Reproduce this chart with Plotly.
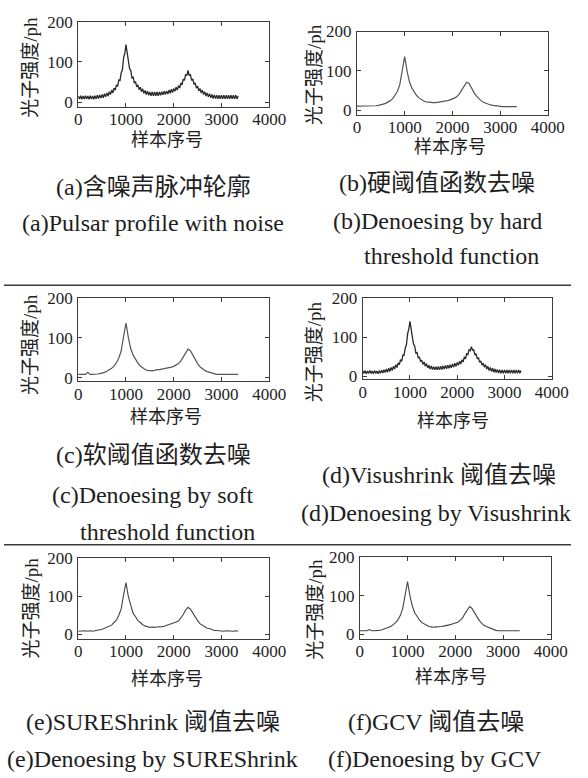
import plotly.graph_objects as go

W, H = 588, 778

# ---------------- data ----------------
x_dense = list(range(0, 3351, 25))   # sample index, noisy series
x_coarse = list(range(0, 3351, 50))  # sample index, smooth series

noisy_a = [
    15, 8, 16, 7, 15, 8, 16, 8, 15, 7,
    16, 8, 15, 7, 16, 8, 17, 9, 18, 10,
    19, 11, 21, 13, 23, 15, 26, 19, 30, 23,
    35, 30, 43, 39, 55, 54, 73, 81, 110, 121,
    143, 120, 109, 83, 79, 60, 62, 47, 51, 38,
    43, 31, 37, 26, 33, 22, 29, 19, 27, 17,
    25, 16, 25, 16, 25, 16, 25, 16, 25, 17,
    26, 18, 27, 19, 28, 20, 30, 22, 32, 24,
    34, 27, 37, 30, 41, 35, 48, 43, 57, 54,
    69, 66, 79, 66, 69, 54, 58, 44, 48, 35,
    40, 28, 34, 23, 30, 19, 26, 15, 23, 13,
    21, 11, 19, 9, 18, 9, 17, 8, 17, 8,
    17, 8, 17, 8, 17, 8, 17, 8, 17, 8,
    17, 8, 17, 8, 15,
]

hard_b = [
    10, 10, 10, 10, 10, 10, 10, 10, 11, 12,
    13, 15, 17, 20, 24, 29, 37, 48, 66, 103,
    136, 100, 72, 56, 45, 37, 31, 26, 23, 21,
    20, 19, 19, 19, 20, 20, 21, 22, 24, 26,
    28, 31, 35, 42, 52, 63, 71, 68, 55, 45,
    36, 29, 24, 20, 17, 15, 13, 12, 11, 10,
    9, 9, 9, 9, 9, 9, 9, 9,
]

soft_c = [
    9, 9, 9, 9, 14, 9, 9, 9, 10, 11,
    12, 14, 17, 20, 24, 30, 38, 50, 68, 104,
    137, 101, 73, 57, 45, 37, 30, 25, 21, 19,
    18, 18, 19, 21, 21, 22, 23, 24, 25, 27,
    29, 32, 36, 43, 53, 64, 72, 68, 56, 45,
    36, 28, 23, 19, 16, 14, 12, 10, 9, 9,
    9, 9, 9, 9, 9, 9, 9, 9,
]

visu_d = [
    13, 7, 14, 6, 13, 7, 14, 7, 13, 6,
    14, 7, 13, 6, 14, 7, 15, 8, 16, 9,
    18, 10, 20, 12, 22, 14, 25, 18, 29, 22,
    34, 29, 42, 38, 54, 53, 72, 80, 108, 120,
    140, 119, 107, 82, 77, 59, 60, 46, 49, 37,
    41, 30, 36, 25, 32, 21, 28, 18, 26, 17,
    24, 16, 24, 16, 25, 16, 25, 17, 26, 18,
    27, 19, 28, 20, 29, 21, 31, 23, 33, 25,
    35, 28, 38, 31, 42, 36, 49, 44, 57, 55,
    67, 65, 75, 66, 67, 54, 57, 44, 47, 35,
    39, 28, 33, 23, 29, 18, 25, 14, 22, 12,
    20, 10, 18, 9, 17, 8, 16, 7, 16, 7,
    16, 7, 16, 7, 16, 7, 16, 7, 16, 7,
    16, 7, 16, 7, 14,
]

sure_e = [
    8, 9, 8, 9, 8, 9, 8, 10, 10, 12,
    13, 16, 17, 21, 24, 31, 37, 50, 67, 104,
    136, 99, 74, 55, 46, 36, 31, 25, 22, 19,
    18, 19, 18, 19, 19, 20, 21, 23, 24, 27,
    28, 32, 35, 43, 52, 64, 71, 66, 56, 44,
    36, 28, 24, 19, 16, 15, 12, 10, 10, 9,
    9, 8, 9, 8, 9, 8, 9, 8,
]

gcv_f = [
    9, 9, 9, 9, 12, 9, 9, 9, 10, 11,
    13, 15, 18, 20, 25, 30, 38, 49, 68, 103,
    137, 100, 73, 56, 46, 37, 30, 26, 22, 20,
    19, 18, 19, 19, 20, 21, 22, 23, 25, 27,
    29, 31, 36, 42, 53, 63, 72, 67, 56, 45,
    36, 29, 23, 20, 17, 14, 12, 10, 9, 9,
    9, 9, 8, 9, 9, 8, 9, 9,
]

x_ticks = [0, 1000, 2000, 3000, 4000]
y_ticks = [0, 100, 200]
x_label = "样本序号"
y_label = "光子强度/ph"

panel_tags = ["a", "b", "c", "d", "e", "f"]
captions_cn = [
    "含噪声脉冲轮廓", "硬阈值函数去噪", "软阈值函数去噪",
    "Visushrink 阈值去噪", "SUREShrink 阈值去噪", "GCV 阈值去噪",
]
captions_en = [
    ["Pulsar profile with noise"],
    ["Denoesing by hard", "threshold function"],
    ["Denoesing by soft", "threshold function"],
    ["Denoesing by Visushrink"],
    ["Denoesing by SUREShrink"],
    ["Denoesing by GCV"],
]

# ---------------- layout geometry (pixels) ----------------
panels = [
    # left, right, top, bottom, ymin, line width, line color
    dict(box=(77, 275, 13, 100), ymin=-12, lw=1.3, col="#2a2a2a"),
    dict(box=(366, 564, 23, 108), ymin=-12, lw=1.2, col="#555555"),
    dict(box=(77, 275, 295, 380), ymin=-8, lw=1.2, col="#555555"),
    dict(box=(372, 568, 295, 378), ymin=-8, lw=1.3, col="#2a2a2a"),
    dict(box=(77, 275, 561, 643), ymin=-12, lw=1.1, col="#444444"),
    dict(box=(369, 567, 560, 643), ymin=-12, lw=1.1, col="#444444"),
]
series_x = [x_dense, x_coarse, x_coarse, x_dense, x_coarse, x_coarse]
series_y = [noisy_a, hard_b, soft_c, visu_d, sure_e, gcv_f]

ylab_pos = [(28, 60), (322, 67), (28, 343), (322, 350), (28, 612), (323, 613)]
xlab_pos = [(169, 134), (463, 141), (168, 417), (466, 421), (169, 684), (464, 682)]

cn_pos = [(155, 182), (449, 178), (155, 455), (451, 476), (155, 728), (448, 728)]
en_pos = [
    [("c", 154, 218)],
    [("c", 450, 216), ("r", 557, 252)],
    [("c", 155, 496), ("r", 262, 534)],
    [("c", 448, 515)],
    [("c", 154, 766)],
    [("c", 447, 766)],
]

SERIF = "Liberation Serif, Times New Roman, serif"
CJK = "Liberation Serif, Noto Sans CJK SC, sans-serif"
TXT = "#1e1e1e"


def px(x):
    return x / W


def py(y):
    return 1 - y / H


def tag(t):
    return "(" + t + ")"


fig = go.Figure()
annotations = []

for i, p in enumerate(panels):
    l, r, t, b = p["box"]
    n = "" if i == 0 else str(i + 1)
    fig.add_trace(go.Scatter(
        x=series_x[i], y=series_y[i], mode="lines",
        line=dict(color=p["col"], width=p["lw"]),
        xaxis="x" + n, yaxis="y" + n, showlegend=False, hoverinfo="skip",
    ))
    axis_common = dict(
        showline=True, linecolor="#3c3c3c", linewidth=1, mirror="allticks",
        ticks="inside", ticklen=4, tickcolor="#3c3c3c", tickwidth=1,
        showgrid=False, zeroline=False, fixedrange=True,
        tickfont=dict(family=SERIF, size=17, color=TXT),
    )
    fig.layout["xaxis" + n] = dict(
        axis_common, domain=[px(l), px(r)], range=[0, 4000],
        tickvals=x_ticks, anchor="y" + n, ticklabelstandoff=-3,
    )
    fig.layout["yaxis" + n] = dict(
        axis_common, domain=[py(b), py(t)], range=[p["ymin"], 200],
        tickvals=y_ticks, anchor="x" + n, ticklabelstandoff=1,
    )
    # axis titles
    yx, yy = ylab_pos[i]
    annotations.append(dict(
        x=px(yx), y=py(yy), xref="paper", yref="paper", text=y_label,
        textangle=-90, showarrow=False, xanchor="center", yanchor="middle",
        font=dict(family=CJK, size=19, color=TXT),
    ))
    xx, xy = xlab_pos[i]
    annotations.append(dict(
        x=px(xx), y=py(xy), xref="paper", yref="paper", text=x_label,
        showarrow=False, xanchor="center", yanchor="middle",
        font=dict(family=CJK, size=18, color=TXT),
    ))
    # captions
    cx, cy = cn_pos[i]
    annotations.append(dict(
        x=px(cx), y=py(cy), xref="paper", yref="paper",
        text=tag(panel_tags[i]) + '<span style="font-size:24px">'
        + captions_cn[i] + "</span>",
        showarrow=False, xanchor="center", yanchor="middle",
        font=dict(family=CJK, size=24, color=TXT),
    ))
    for k, ((anc, ex, ey), line_txt) in enumerate(zip(en_pos[i], captions_en[i])):
        txt = (tag(panel_tags[i]) + line_txt) if k == 0 else line_txt
        annotations.append(dict(
            x=px(ex), y=py(ey), xref="paper", yref="paper", text=txt,
            showarrow=False, xanchor="center" if anc == "c" else "right",
            yanchor="middle",
            font=dict(family=SERIF, size=24, color=TXT),
        ))

shapes = [
    dict(type="line", xref="paper", yref="paper", x0=0, x1=1,
         y0=py(282), y1=py(282), line=dict(color="#3a3a3a", width=1.5)),
    dict(type="line", xref="paper", yref="paper", x0=0, x1=1,
         y0=py(547), y1=py(547), line=dict(color="#3a3a3a", width=1.5)),
]

fig.update_layout(
    width=W, height=H, margin=dict(l=0, r=0, t=0, b=0),
    paper_bgcolor="white", plot_bgcolor="white",
    annotations=annotations, shapes=shapes, showlegend=False,
)

fig.write_html(
    "out.html",
    config={"displayModeBar": False},
    post_script="document.body.style.margin='0';"
                "document.body.style.overflow='hidden';",
)
